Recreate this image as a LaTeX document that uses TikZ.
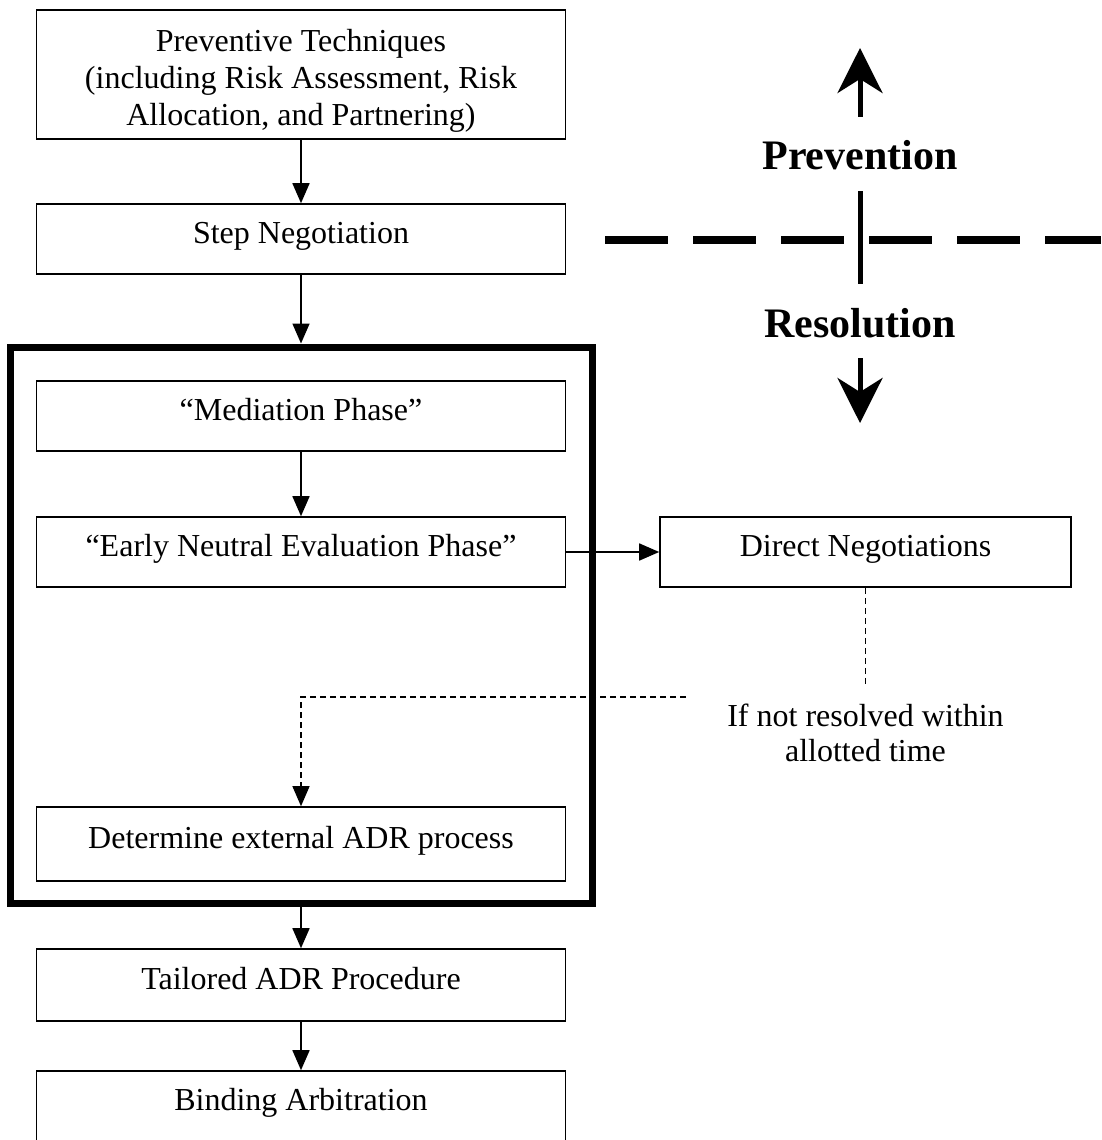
\documentclass[tikz,border=0pt]{standalone}
\usepackage{fontspec}
\setmainfont{Liberation Serif}
\usetikzlibrary{arrows.meta}

\begin{document}
\begin{tikzpicture}[line cap=butt,line join=miter,>={Triangle[length=20pt,width=17pt]},x=1pt,y=-1pt,
  box/.style={draw,line width=1.6pt,minimum width=529pt,inner sep=0pt,align=center,font=\fontsize{32}{37}\selectfont},
  boxone/.style={box,minimum height=70pt,text height=22pt,text depth=14pt},
  flow/.style={->,line width=1.6pt},
  cond/.style={line width=1.2pt,dash pattern=on 6pt off 4pt},
  big/.style={line width=5pt},
  bigtip/.style={-{Stealth[length=45pt,width=45pt,inset=14pt]}},
  side/.style={font=\bfseries\fontsize{42}{46}\selectfont}]
\useasboundingbox (0,0) rectangle (1101,1140);
\clip (0,0) rectangle (1101,1140);
\node[box,minimum height=129pt] (prev) at (301,74.5) {\rule{0pt}{34pt}Preventive Techniques\\(including Risk Assessment, Risk\\Allocation, and Partnering)};
\node[boxone] (step) at (301,239) {Step Negotiation};
\node[draw,line width=7pt,minimum width=582pt,minimum height=556pt,inner sep=0pt] (phase) at (301,625) {};
\node[boxone] (med) at (301,416) {``Mediation Phase''};
\node[boxone] (ene) at (301,552) {``Early Neutral Evaluation Phase''};
\node[boxone,minimum height=74pt] (det) at (301,844) {Determine external ADR process};
\node[boxone,minimum height=72pt] (tail) at (301,985) {Tailored ADR Procedure};
\node[boxone] (bind) at (301,1106) {Binding Arbitration};
\node[boxone,minimum width=411pt] (direct) at (865.5,552) {Direct Negotiations};
\node[align=center,inner sep=18pt,font=\fontsize{32}{35}\selectfont] (lapse) at (865.5,733) {If not resolved within\\allotted time};
\coordinate (back) at (686,697);
\node[side] (prevn) at (860,155) {Prevention};
\node[side] (resol) at (860,323) {Resolution};
\coordinate (uptip) at (860,48);
\coordinate (downtip) at (860,423);
\coordinate (divl) at (605,240);
\coordinate (divr) at (1101,240);
\draw[big,bigtip,shorten <=20pt] (prevn) -- (uptip);
\draw[big,bigtip,shorten <=17pt] (resol) -- (downtip);
\draw[big,shorten <=18pt,shorten >=21pt] (prevn) -- (resol);
\draw[line width=8pt,dash pattern=on 63pt off 25pt] (divl) -- (divr);
\draw[flow] (prev) -- (step);
\draw[flow] (step) -- (phase);
\draw[flow] (med) -- (ene);
\draw[flow] (ene) -- (direct);
\draw[flow] (phase) -- (tail);
\draw[flow] (tail) -- (bind);
\draw[cond] (direct) -- (lapse);
\draw[cond,->] (back) -| (det);
\end{tikzpicture}
\end{document}
